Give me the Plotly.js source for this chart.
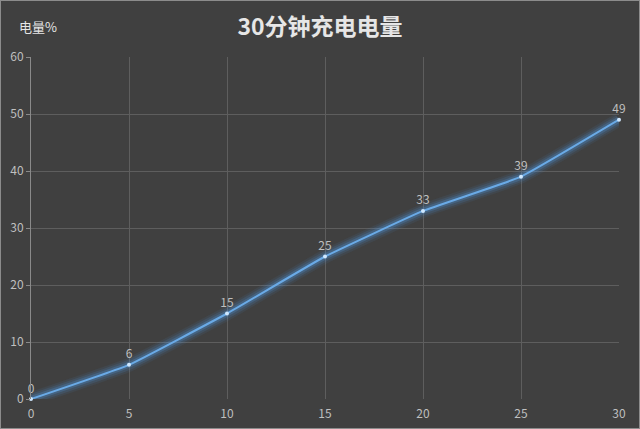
<!DOCTYPE html>
<html>
<head>
<meta charset="utf-8">
<script src="https://cdn.plot.ly/plotly-3.0.1.min.js"></script>
<style>
  html, body { margin: 0; padding: 0; background: #8c8c8c; }
  #chart { position: absolute; left: 1px; top: 1px; width: 638px; height: 427px; }
</style>
</head>
<body>
<div id="chart"></div>
<script>
// 充电时间（分钟）与电量（%）
const minutes = [0, 5, 10, 15, 20, 25, 30];
const charge = [0, 6, 15, 25, 33, 39, 49];
const xTicks = [0, 5, 10, 15, 20, 25, 30];
const yTicks = [0, 10, 20, 30, 40, 50, 60];

const FONT = '"Noto Sans CJK SC", "Noto Sans", sans-serif';
const BLUE = "#5b9bd5";

// soft glow under the main line, Excel-style
const glowWidths = [14, 10, 6];
const glowAlpha = [0.08, 0.14, 0.25];
const glow = glowWidths.map((w, i) => ({
  x: minutes,
  y: charge,
  type: "scatter",
  mode: "lines",
  line: { color: `rgba(80,150,225,${glowAlpha[i]})`, width: w, shape: "spline", smoothing: 0.3 },
  hoverinfo: "skip",
  showlegend: false,
}));

const mainLine = {
  x: minutes,
  y: charge,
  type: "scatter",
  mode: "lines+markers+text",
  line: { color: "#6aaae6", width: 2, shape: "spline", smoothing: 0.3 },
  marker: { color: "#cfe8ff", size: 4 },
  text: charge.map(String),
  textposition: "top center",
  textfont: { family: FONT, size: 12, color: "#bfbfbf" },
  showlegend: false,
  cliponaxis: false,
};

const layout = {
  width: 638,
  height: 427,
  paper_bgcolor: "#404040",
  plot_bgcolor: "#404040",
  margin: { l: 30, r: 20, t: 56, b: 29 },
  font: { family: FONT, color: "#bfbfbf", size: 12 },
  title: {
    text: "<b>30分钟充电电量</b>",
    font: { family: FONT, size: 23, color: "#e6e6e6" },
    x: 0.5,
    xanchor: "center",
    y: 0.94,
    yanchor: "middle",
  },
  xaxis: {
    range: [0, 30],
    tickvals: xTicks,
    showgrid: true,
    gridcolor: "#5e5e5e",
    gridwidth: 1,
    zeroline: false,
    showline: false,
    ticks: "outside",
    ticklen: 4,
    tickcolor: "rgba(0,0,0,0)",
    tickfont: { family: FONT, size: 12, color: "#bfbfbf" },
    fixedrange: true,
  },
  yaxis: {
    range: [0, 60],
    tickvals: yTicks,
    showgrid: true,
    gridcolor: "#5e5e5e",
    gridwidth: 1,
    zeroline: false,
    showline: true,
    linecolor: "#8a8a8a",
    linewidth: 1,
    ticks: "outside",
    ticklen: 4,
    tickcolor: "#8a8a8a",
    tickfont: { family: FONT, size: 12, color: "#bfbfbf" },
    fixedrange: true,
  },
  annotations: [
    {
      xref: "paper",
      yref: "paper",
      x: -0.024,
      y: 1.088,
      xanchor: "left",
      yanchor: "middle",
      text: "电量%",
      showarrow: false,
      font: { family: FONT, size: 13, color: "#e6e6e6" },
    },
  ],
};

Plotly.newPlot("chart", [...glow, mainLine], layout, { displayModeBar: false, staticPlot: true });
</script>
</body>
</html>
